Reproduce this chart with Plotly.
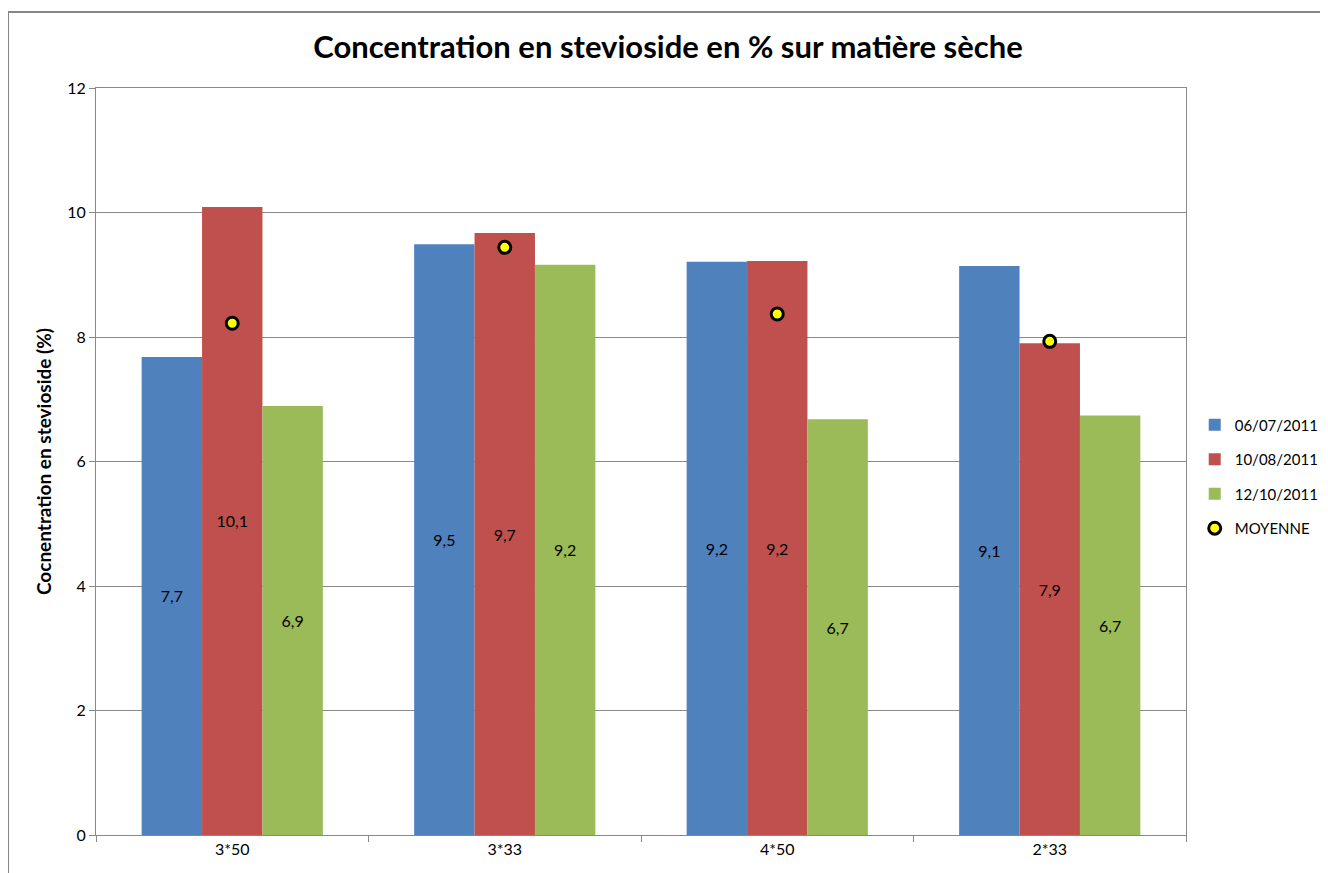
import plotly.graph_objects as go

categories = ["3*50", "3*33", "4*50", "2*33"]
series_names = ["06/07/2011", "10/08/2011", "12/10/2011"]
v_0607 = [7.68, 9.49, 9.21, 9.14]
v_1008 = [10.09, 9.67, 9.22, 7.90]
v_1210 = [6.89, 9.16, 6.68, 6.74]
moyenne = [8.22, 9.44, 8.37, 7.93]
colors = ["#4F81BD", "#C0504D", "#9BBB59"]

FONT = "Lato"

def fmt(v):
    return f"{v:.1f}".replace(".", ",")

W, H = 1320, 865
L, T, PW, PH = 88, 80, 1090, 747

fig = go.Figure()
for i, (name, vals) in enumerate(zip(series_names, [v_0607, v_1008, v_1210])):
    fig.add_trace(go.Bar(
        x=categories, y=vals, name=name,
        marker=dict(color=colors[i], line=dict(width=0)),
        text=[fmt(v) for v in vals], textposition="inside",
        insidetextanchor="middle", textangle=0,
        textfont=dict(family=FONT, size=16, color="#000000"),
        legendgroup=name, hoverinfo="y",
    ))

fig.add_trace(go.Scatter(
    x=categories, y=moyenne, name="MOYENNE", mode="markers",
    marker=dict(color="#FFFF00", size=12, line=dict(color="#000000", width=3)),
    legendgroup="moy",
))

fig.update_layout(
    width=W, height=H,
    paper_bgcolor="white", plot_bgcolor="white",
    margin=dict(l=L, r=W - L - PW, t=T, b=H - T - PH, autoexpand=False),
    barmode="group", bargap=0.335, bargroupgap=0,
    title=dict(text="<b>Concentration en stevioside en % sur matière sèche</b>",
               x=0.5, xref="container", y=1 - 39 / H, yanchor="middle",
               font=dict(family=FONT, size=31, color="#000000")),
    legend=dict(x=1.008, xanchor="left", y=0.48, yanchor="middle",
                font=dict(family=FONT, size=15, color="#000000"),
                tracegroupgap=12, bgcolor="rgba(0,0,0,0)"),
    showlegend=True,
    xaxis=dict(showline=True, linecolor="#898989", linewidth=1, mirror=True,
               ticks="outside", ticklen=6, tickcolor="#898989", tickson="boundaries",
               tickfont=dict(family=FONT, size=16, color="#000000"),
               showgrid=False, automargin=False),
    yaxis=dict(range=[0, 12], dtick=2, showline=True, linecolor="#898989", linewidth=1,
               mirror=True, ticks="outside", ticklen=6, tickcolor="#898989",
               showgrid=True, gridcolor="#898989", gridwidth=1, zeroline=False,
               tickfont=dict(family=FONT, size=16, color="#000000"), automargin=False,
               title=dict(text="<b>Cocnentration en stevioside (%)</b>", standoff=10,
                          font=dict(family=FONT, size=19, color="#000000"))),
    shapes=[dict(type="rect", xref="paper", yref="paper",
                 x0=(0 - L) / PW, x1=(W + 20 - L) / PW,
                 y0=-(H + 20 - T - PH) / PH, y1=(T + PH - 4) / PH,
                 line=dict(color="#868686", width=2), layer="below")],
)

fig.write_html("out.html")
